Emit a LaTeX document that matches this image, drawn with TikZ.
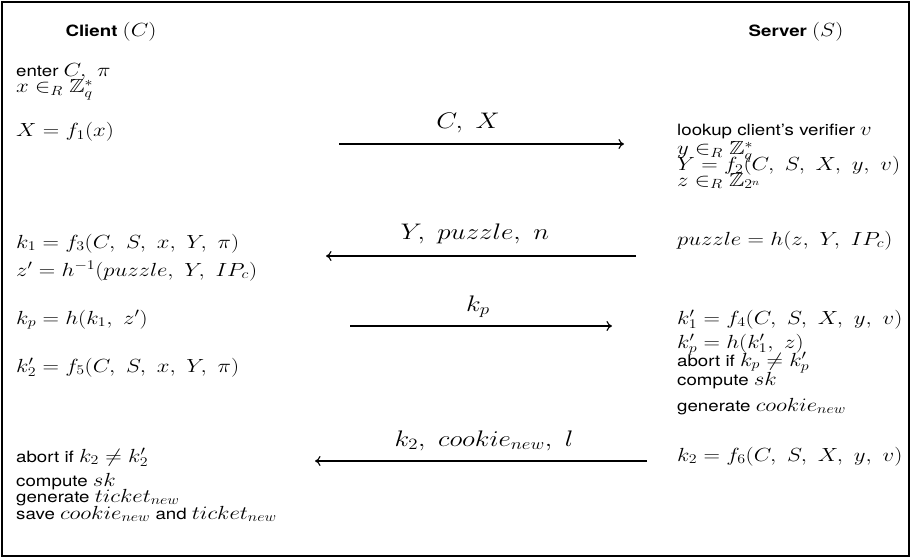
\RequirePackage{fix-cm}
\documentclass[tikz,border=0pt]{standalone}
\usepackage{amsmath,amssymb,graphicx}
\usepackage{fontspec}
\setsansfont{TeX Gyre Heros}[Scale=0.82]
\usetikzlibrary{arrows.meta}
\newcommand\hs[1]{\scalebox{1.2}[1]{#1}}
\newcommand\cs{,\mskip5.5mu}
\begin{document}
\begin{tikzpicture}[x=1pt,y=-1pt,
  txt/.style={anchor=base west, inner sep=0pt, font=\sffamily\fontsize{19}{16}\selectfont},
  head/.style={anchor=base, inner sep=0pt, font=\sffamily\fontsize{19}{16}\selectfont},
  lbl/.style={anchor=base, inner sep=0pt, font=\fontsize{22.5}{22.5}\selectfont},
  msg/.style={-{Computer Modern Rightarrow[length=5.5pt,width=10pt]}, line width=1.1pt}]
\useasboundingbox (0,0) rectangle (911,559);
\draw[line width=2pt] (2,2) rectangle (909,556);
% headers
\node[head] (hc) at (111,37) {\hs{\textbf{Client} $(C)$}};
\node[head] (hs) at (796,37) {\hs{\textbf{Server} $(S)$}};
% client side
\node[txt] (c1) at (16,77) {\hs{enter $C\cs\pi$}};
\node[txt] (c2) at (16,93) {\hs{$x\in_R\mathbb{Z}_q^*$}};
\node[txt] (c3) at (16,137) {\hs{$X=f_1(x)$}};
\node[txt] (c4) at (16,248) {\hs{$k_1=f_3(C\cs S\cs x\cs Y\cs \pi)$}};
\node[txt] (c5) at (16,276) {\hs{$z'=h^{-1}(puzzle\cs Y\cs IP_c)$}};
\node[txt] (c6) at (16,324) {\hs{$k_p=h(k_1\cs z')$}};
\node[txt] (c7) at (16,372) {\hs{$k_2'=f_5(C\cs S\cs x\cs Y\cs \pi)$}};
\node[txt] (c8) at (16,462) {\hs{abort if $k_2\neq k_2'$}};
\node[txt] (c9) at (16,486) {\hs{compute $sk$}};
\node[txt] (c10) at (16,502) {\hs{generate $ticket_{new}$}};
\node[txt] (c11) at (16,519) {\hs{save $cookie_{new}$ and $ticket_{new}$}};
% server side
\node[txt] (s1) at (677,136) {\hs{lookup client's verifier $v$}};
\node[txt] (s2) at (677,155) {\hs{$y\in_R\mathbb{Z}_q^*$}};
\node[txt] (s3) at (677,171) {\hs{$Y=f_2(C\cs S\cs X\cs y\cs v)$}};
\node[txt] (s4) at (677,186) {\hs{$z\in_R\mathbb{Z}_{2^n}$}};
\node[txt] (s5) at (677,245) {\hs{$puzzle=h(z\cs Y\cs IP_c)$}};
\node[txt] (s6) at (677,324) {\hs{$k_1'=f_4(C\cs S\cs X\cs y\cs v)$}};
\node[txt] (s7) at (677,348) {\hs{$k_p'=h(k_1'\cs z)$}};
\node[txt] (s8) at (677,366) {\hs{abort if $k_p\neq k_p'$}};
\node[txt] (s9) at (677,385) {\hs{compute $sk$}};
\node[txt] (s10) at (677,411) {\hs{generate $cookie_{new}$}};
\node[txt] (s11) at (677,461) {\hs{$k_2=f_6(C\cs S\cs X\cs y\cs v)$}};
% messages
\coordinate (m1a) at (339,144); \coordinate (m1b) at (624,144);
\draw[msg] (m1a) -- (m1b);
\node[lbl] (l1) at (468,129) {\hs{$C,\ X$}};
\coordinate (m2a) at (636,256); \coordinate (m2b) at (326,256);
\draw[msg] (m2a) -- (m2b);
\node[lbl] (l2) at (475,240) {\hs{$Y,\ puzzle,\ n$}};
\coordinate (m3a) at (350,326); \coordinate (m3b) at (612,326);
\draw[msg] (m3a) -- (m3b);
\node[lbl] (l3) at (478,311) {\hs{$k_p$}};
\coordinate (m4a) at (647,461); \coordinate (m4b) at (315,461);
\draw[msg] (m4a) -- (m4b);
\node[lbl] (l4) at (484,446) {\hs{$k_2,\ cookie_{new},\ l$}};
\end{tikzpicture}
\end{document}
